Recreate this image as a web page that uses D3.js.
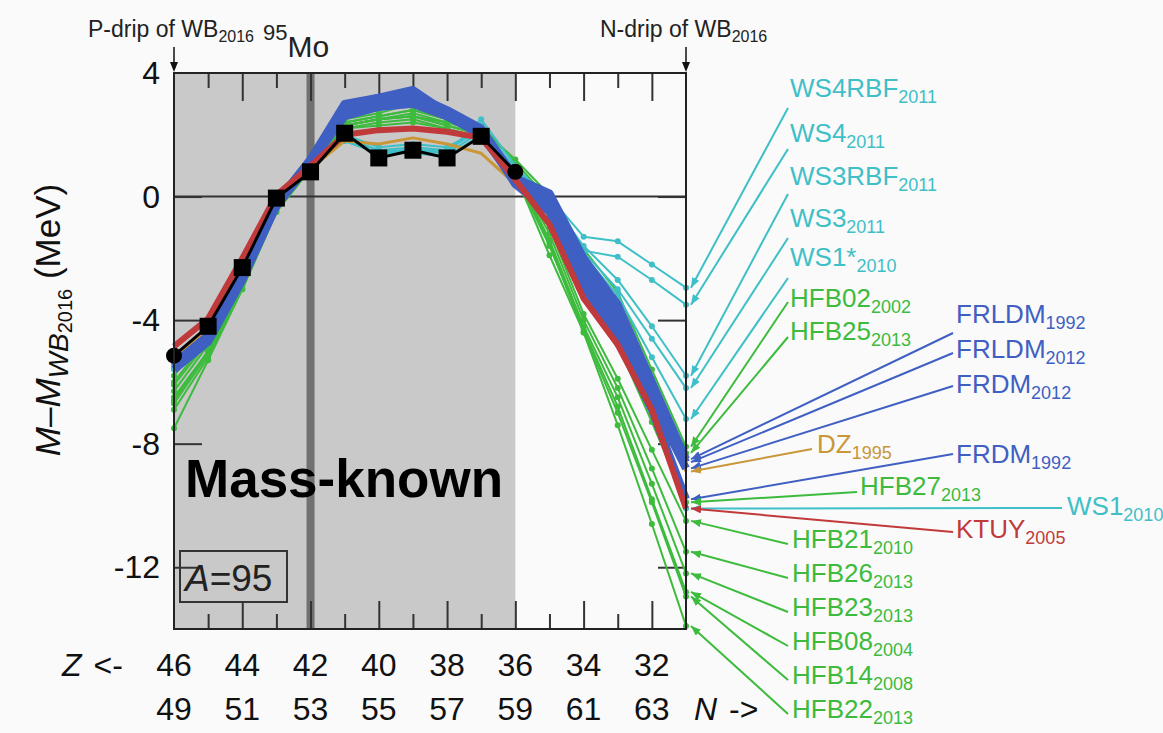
<!DOCTYPE html>
<html>
<head>
<meta charset="utf-8">
<script src="https://cdn.jsdelivr.net/npm/d3@7"></script>
<style>
  body { margin: 0; background: #fafafa; }
  text { font-family: "Liberation Sans", Arial, Helvetica, sans-serif; }
</style>
</head>
<body>
<svg id="chart" width="1163" height="733"></svg>
<script>
// Data: Z from the proton drip (46) to the neutron drip (31), A = 95
const zValues = [46, 45, 44, 43, 42, 41, 40, 39, 38, 37, 36, 35, 34, 33, 32, 31]
const zTickLabels = [46, 44, 42, 40, 38, 36, 34, 32]
const nTickLabels = [49, 51, 53, 55, 57, 59, 61, 63]
const yTickValues = [4, 0, -4, -8, -12]

// measured masses (AME), Z = 46 .. 36
const knownZ = [46, 45, 44, 43, 42, 41, 40, 39, 38, 37, 36]
const knownValues = [-5.15, -4.2, -2.3, -0.05, 0.8, 2.05, 1.25, 1.5, 1.25, 1.95, 0.8]

// model predictions, Z = 46 .. 31
const ktuy2005 = [-4.85, -3.95, -2.0, 0.05, 1.0, 2.0, 2.15, 2.2, 2.1, 1.9, 0.55, -0.9, -3.3, -4.8, -6.9, -10.1]
const frldm1992 = [-5.4, -4.5, -2.5, -0.2, 1.2, 2.9, 3.2, 3.3, 2.8, 2.2, 0.6, 0.1, -2.0, -3.5, -6.0, -8.5]
const frldm2012 = [-5.5, -4.6, -2.6, -0.3, 1.1, 2.7, 3.0, 3.1, 2.6, 2.1, 0.5, -0.1, -2.3, -3.8, -6.3, -8.6]
const frdm2012 = [-5.6, -4.7, -2.7, -0.3, 1.1, 2.6, 2.9, 3.0, 2.6, 2.0, 0.5, -0.3, -2.6, -4.2, -6.6, -8.8]
const frdm1992 = [-5.5, -4.6, -2.6, -0.2, 1.2, 3.0, 3.2, 3.45, 2.7, 2.1, 0.4, -0.5, -2.9, -4.6, -6.9, -9.8]
const dz1995 = [-5.2, -4.3, -2.3, -0.1, 0.9, 1.8, 1.7, 1.9, 1.7, 1.4, 0.4, -0.2, -2.5, -4.0, -6.5, -8.9]
const ws4rbf2011 = [-5.3, -4.3, -2.4, -0.1, 0.9, 1.9, 1.4, 1.5, 1.4, 2.1, 0.9, 0.0, -1.3, -1.45, -2.2, -2.95]
const ws42011 = [-5.4, -4.4, -2.5, -0.2, 0.9, 1.9, 1.5, 1.6, 1.5, 2.2, 0.9, -0.1, -1.75, -1.95, -2.7, -3.5]
const ws3rbf2011 = [-5.3, -4.3, -2.4, -0.1, 0.9, 1.8, 1.4, 1.4, 1.3, 2.0, 0.8, -0.1, -1.6, -2.7, -4.2, -5.8]
const ws32011 = [-5.5, -4.5, -2.5, -0.2, 1.0, 1.9, 1.5, 1.5, 1.5, 2.3, 0.9, -0.2, -1.8, -3.0, -4.6, -6.2]
const ws1star2010 = [-5.4, -4.4, -2.4, -0.1, 0.9, 1.8, 1.4, 1.5, 1.4, 2.5, 1.0, -0.2, -1.9, -3.2, -5.2, -7.2]
const ws12010 = [-5.6, -4.6, -2.6, -0.3, 1.0, 2.0, 1.6, 1.7, 1.6, 2.2, 0.7, -0.4, -2.4, -4.0, -6.6, -10.1]
const hfb022002 = [-5.8, -4.4, -2.4, -0.2, 1.0, 2.3, 2.5, 2.6, 2.4, 2.2, 1.2, 0.05, -1.7, -3.1, -5.6, -8.1]
const hfb252013 = [-6.0, -4.6, -2.5, -0.2, 1.1, 2.4, 2.6, 2.8, 2.5, 2.3, 1.1, -0.1, -1.9, -3.4, -5.9, -8.3]
const hfb272013 = [-6.3, -4.8, -2.6, -0.3, 1.0, 2.3, 2.5, 2.7, 2.4, 2.1, 0.9, -0.6, -2.8, -4.8, -7.3, -9.9]
const hfb212010 = [-6.5, -5.0, -2.8, -0.4, 1.1, 2.5, 2.7, 3.0, 2.6, 2.2, 0.9, -1.0, -3.8, -5.9, -8.2, -10.5]
const hfb262013 = [-6.1, -4.7, -2.6, -0.3, 1.0, 2.4, 2.6, 2.8, 2.5, 2.1, 0.8, -1.2, -4.0, -6.2, -8.8, -11.5]
const hfb232013 = [-6.7, -5.1, -2.9, -0.4, 1.0, 2.3, 2.5, 2.6, 2.3, 2.0, 0.8, -1.4, -4.2, -6.5, -9.3, -12.2]
const hfb082004 = [-6.9, -5.2, -3.0, -0.5, 0.9, 2.2, 2.4, 2.5, 2.2, 1.9, 0.7, -1.6, -4.3, -6.8, -9.8, -12.8]
const hfb142008 = [-6.6, -5.0, -2.8, -0.4, 1.0, 2.3, 2.5, 2.6, 2.3, 2.0, 0.8, -1.5, -4.4, -7.0, -9.9, -12.95]
const hfb222013 = [-7.5, -5.3, -3.0, -0.5, 0.9, 2.2, 2.3, 2.4, 2.2, 1.9, 0.7, -1.9, -4.4, -7.4, -10.6, -13.9]

const models = [
  { name: "WS4RBF", year: "2011", family: "ws", values: ws4rbf2011 },
  { name: "WS4", year: "2011", family: "ws", values: ws42011 },
  { name: "WS3RBF", year: "2011", family: "ws", values: ws3rbf2011 },
  { name: "WS3", year: "2011", family: "ws", values: ws32011 },
  { name: "WS1*", year: "2010", family: "ws", values: ws1star2010 },
  { name: "HFB02", year: "2002", family: "hfb", values: hfb022002 },
  { name: "HFB25", year: "2013", family: "hfb", values: hfb252013 },
  { name: "FRLDM", year: "1992", family: "frdm", values: frldm1992 },
  { name: "FRLDM", year: "2012", family: "frdm", values: frldm2012 },
  { name: "FRDM", year: "2012", family: "frdm", values: frdm2012 },
  { name: "DZ", year: "1995", family: "dz", values: dz1995 },
  { name: "FRDM", year: "1992", family: "frdm", values: frdm1992 },
  { name: "HFB27", year: "2013", family: "hfb", values: hfb272013 },
  { name: "WS1", year: "2010", family: "ws", values: ws12010 },
  { name: "KTUY", year: "2005", family: "ktuy", values: ktuy2005 },
  { name: "HFB21", year: "2010", family: "hfb", values: hfb212010 },
  { name: "HFB26", year: "2013", family: "hfb", values: hfb262013 },
  { name: "HFB23", year: "2013", family: "hfb", values: hfb232013 },
  { name: "HFB08", year: "2004", family: "hfb", values: hfb082004 },
  { name: "HFB14", year: "2008", family: "hfb", values: hfb142008 },
  { name: "HFB22", year: "2013", family: "hfb", values: hfb222013 }
]

// label placement (text x, baseline y, leader start x, y), same order as models
const labelPos = [
  [790, 97, 788, 108], [790, 142, 788, 149], [790, 185, 788, 194], [790, 227, 788, 238],
  [790, 266, 788, 278], [790, 307, 788, 302], [790, 340, 788, 337],
  [956, 323, 953, 333], [956, 358, 953, 353], [956, 393, 953, 386],
  [817, 453, 812, 449], [956, 463, 953, 454], [860, 495, 857, 492],
  [1067, 515, 1062, 508], [956, 538, 953, 532],
  [792, 548, 788, 544], [792, 582, 788, 578], [792, 616, 788, 612],
  [792, 650, 788, 646], [792, 684, 788, 680], [792, 718, 788, 714]
]

const familyColor = { ws: "#3fbfc7", hfb: "#3dbb3d", frdm: "#3f5fc3", dz: "#c99638", ktuy: "#c13a3b" }
const familyWidth = { ws: 2, hfb: 2, frdm: 8, dz: 3, ktuy: 6 }
const drawOrder = ["hfb", "ws", "dz", "frdm", "ktuy"]

// Scales
const x = d3.scaleLinear().domain([46, 31]).range([174, 686])
const y = d3.scaleLinear().domain([-14, 4]).range([629, 73])

const svg = d3.select("#chart")
svg.append("rect").attr("width", 1163).attr("height", 733).attr("fill", "#fafafa")

const defs = svg.append("defs")
Object.entries(familyColor).forEach(([k, c]) => {
  defs.append("marker")
    .attr("id", "arrow-" + k)
    .attr("viewBox", "0 0 10 8")
    .attr("refX", 10).attr("refY", 4)
    .attr("markerWidth", 10).attr("markerHeight", 8)
    .attr("markerUnits", "userSpaceOnUse")
    .attr("orient", "auto")
    .append("path").attr("d", "M0,0L10,4L0,8Z").attr("fill", c)
})

// mass-known region and 95Mo band
svg.append("rect")
  .attr("x", x(46)).attr("y", y(4))
  .attr("width", x(36) - x(46)).attr("height", y(-14) - y(4))
  .attr("fill", "#c9c9c9")
svg.append("rect")
  .attr("x", x(42) - 4).attr("y", y(4))
  .attr("width", 8).attr("height", y(-14) - y(4))
  .attr("fill", "#717171")

// zero line
svg.append("line")
  .attr("x1", x(46)).attr("x2", x(31)).attr("y1", y(0)).attr("y2", y(0))
  .attr("stroke", "#333").attr("stroke-width", 2)

// Axes (ticks inward)
const evenZ = [44, 42, 40, 38, 36, 34, 32]
const oddZ = [45, 43, 41, 39, 37, 35, 33]
const tickStyle = g => {
  g.select(".domain").remove()
  g.selectAll(".tick line").attr("stroke", "#333").attr("stroke-width", 2)
}
svg.append("g").attr("transform", `translate(0,${y(4)})`)
  .call(d3.axisBottom(x).tickValues(evenZ).tickSize(28).tickFormat("")).call(tickStyle)
svg.append("g").attr("transform", `translate(0,${y(4)})`)
  .call(d3.axisBottom(x).tickValues(oddZ).tickSize(15).tickFormat("")).call(tickStyle)
svg.append("g").attr("transform", `translate(0,${y(-14)})`)
  .call(d3.axisTop(x).tickValues(evenZ).tickSize(28).tickFormat("")).call(tickStyle)
svg.append("g").attr("transform", `translate(0,${y(-14)})`)
  .call(d3.axisTop(x).tickValues(oddZ).tickSize(15).tickFormat("")).call(tickStyle)

svg.append("g").attr("transform", `translate(${x(46)},0)`)
  .call(d3.axisRight(y).tickValues(yTickValues.slice(1)).tickSize(28).tickFormat(""))
  .call(tickStyle)
svg.append("g").attr("transform", `translate(${x(31)},0)`)
  .call(d3.axisLeft(y).tickValues(yTickValues.slice(1)).tickSize(28).tickFormat(""))
  .call(tickStyle)

// y tick labels
svg.append("g")
  .selectAll("text").data(yTickValues).join("text")
  .attr("x", 160).attr("y", d => y(d) + 11)
  .attr("text-anchor", "end").attr("font-size", 32).attr("fill", "#111")
  .text(d => d)

// x tick labels: Z row and N row
svg.append("g")
  .selectAll("text").data(zTickLabels).join("text")
  .attr("x", d => x(d)).attr("y", 676)
  .attr("text-anchor", "middle").attr("font-size", 32).attr("fill", "#111")
  .text(d => d)
svg.append("g")
  .selectAll("text").data(nTickLabels).join("text")
  .attr("x", (d, i) => x(zTickLabels[i])).attr("y", 720)
  .attr("text-anchor", "middle").attr("font-size", 32).attr("fill", "#111")
  .text(d => d)

const zRow = svg.append("text").attr("x", 62).attr("y", 676).attr("font-size", 32).attr("fill", "#111")
zRow.append("tspan").attr("font-style", "italic").text("Z")
zRow.append("tspan").attr("dx", 12).text("<-")
const nRow = svg.append("text").attr("x", 694).attr("y", 720).attr("font-size", 32).attr("fill", "#111")
nRow.append("tspan").attr("font-style", "italic").text("N")
nRow.append("tspan").attr("dx", 12).text("->")

// Model lines
const line = d3.line().x((d, i) => x(zValues[i])).y(d => y(d))
drawOrder.forEach(fam => {
  const g = svg.append("g")
  const rows = models.filter(m => m.family === fam)
  g.selectAll("path").data(rows).join("path")
    .attr("d", d => line(d.values))
    .attr("fill", "none")
    .attr("stroke", familyColor[fam])
    .attr("stroke-width", familyWidth[fam])
    .attr("stroke-linejoin", "round")
  if (fam === "hfb" || fam === "ws") {
    g.selectAll("g").data(rows).join("g")
      .selectAll("circle").data(d => d.values).join("circle")
      .attr("cx", (d, i) => x(zValues[i])).attr("cy", d => y(d))
      .attr("r", 3).attr("fill", familyColor[fam])
  }
})

// measured masses
const known = svg.append("g")
known.append("path")
  .attr("d", d3.line().x((d, i) => x(knownZ[i])).y(d => y(d))(knownValues))
  .attr("fill", "none").attr("stroke", "#000").attr("stroke-width", 3)
known.selectAll("rect").data(knownValues.slice(1, -1)).join("rect")
  .attr("x", (d, i) => x(knownZ[i + 1]) - 8.5).attr("y", d => y(d) - 8.5)
  .attr("width", 17).attr("height", 17).attr("fill", "#000")
known.selectAll("circle").data([0, knownValues.length - 1]).join("circle")
  .attr("cx", i => x(knownZ[i])).attr("cy", i => y(knownValues[i]))
  .attr("r", 8).attr("fill", "#000")

// frame
svg.append("rect")
  .attr("x", x(46)).attr("y", y(4))
  .attr("width", x(31) - x(46)).attr("height", y(-14) - y(4))
  .attr("fill", "none").attr("stroke", "#222").attr("stroke-width", 2)

// Labels with leader lines
const labels = svg.append("g")
models.forEach((m, i) => {
  const [tx, ty, lx, ly] = labelPos[i]
  const c = familyColor[m.family]
  labels.append("line")
    .attr("x1", lx).attr("y1", ly)
    .attr("x2", x(31) + 5).attr("y2", y(m.values[m.values.length - 1]))
    .attr("stroke", c).attr("stroke-width", 2)
    .attr("marker-end", `url(#arrow-${m.family})`)
  const t = labels.append("text").attr("x", tx).attr("y", ty).attr("fill", c).attr("font-size", 26)
  t.append("tspan").text(m.name)
  t.append("tspan").attr("font-size", 18).attr("dy", 6).text(m.year)
})

// Annotations
svg.append("text").attr("x", 185).attr("y", 497)
  .attr("font-size", 53).attr("font-weight", "bold").attr("fill", "#000")
  .text("Mass-known")

svg.append("rect").attr("x", 180).attr("y", 551).attr("width", 107).attr("height", 51)
  .attr("fill", "none").attr("stroke", "#333").attr("stroke-width", 2)
const aText = svg.append("text").attr("x", 185).attr("y", 591).attr("font-size", 37).attr("fill", "#222")
aText.append("tspan").attr("font-style", "italic").text("A")
aText.append("tspan").text("=95")

// y axis title
const yTitle = svg.append("text")
  .attr("transform", "translate(60,320) rotate(-90)")
  .attr("text-anchor", "middle").attr("font-size", 35).attr("fill", "#111")
yTitle.append("tspan").attr("font-style", "italic").text("M")
yTitle.append("tspan").text("\u2013")
yTitle.append("tspan").attr("font-style", "italic").text("M")
yTitle.append("tspan").attr("font-size", 28).attr("dy", 8).attr("font-style", "italic").text("WB")
yTitle.append("tspan").attr("font-size", 20).attr("dy", 4).text("2016")
yTitle.append("tspan").attr("dy", -12).text(" (MeV)")

// drip-line headers and arrows
const dripHeader = (tx, label) => {
  const t = svg.append("text").attr("x", tx).attr("y", 37).attr("font-size", 23).attr("fill", "#222")
  t.append("tspan").text(label)
  t.append("tspan").attr("font-size", 16).attr("dy", 5).text("2016")
}
dripHeader(88, "P-drip of WB")
dripHeader(600, "N-drip of WB")

;[x(46), x(31)].forEach(ax => {
  svg.append("line").attr("x1", ax).attr("x2", ax).attr("y1", 47).attr("y2", 64)
    .attr("stroke", "#111").attr("stroke-width", 1.5)
  svg.append("path").attr("d", `M${ax - 4},62L${ax + 4},62L${ax},72Z`).attr("fill", "#111")
})

const mo = svg.append("text").attr("x", 263).attr("y", 57).attr("fill", "#222")
mo.append("tspan").attr("font-size", 22).attr("dy", -17).text("95")
mo.append("tspan").attr("font-size", 30).attr("dy", 17).text("Mo")
</script>
</body>
</html>
